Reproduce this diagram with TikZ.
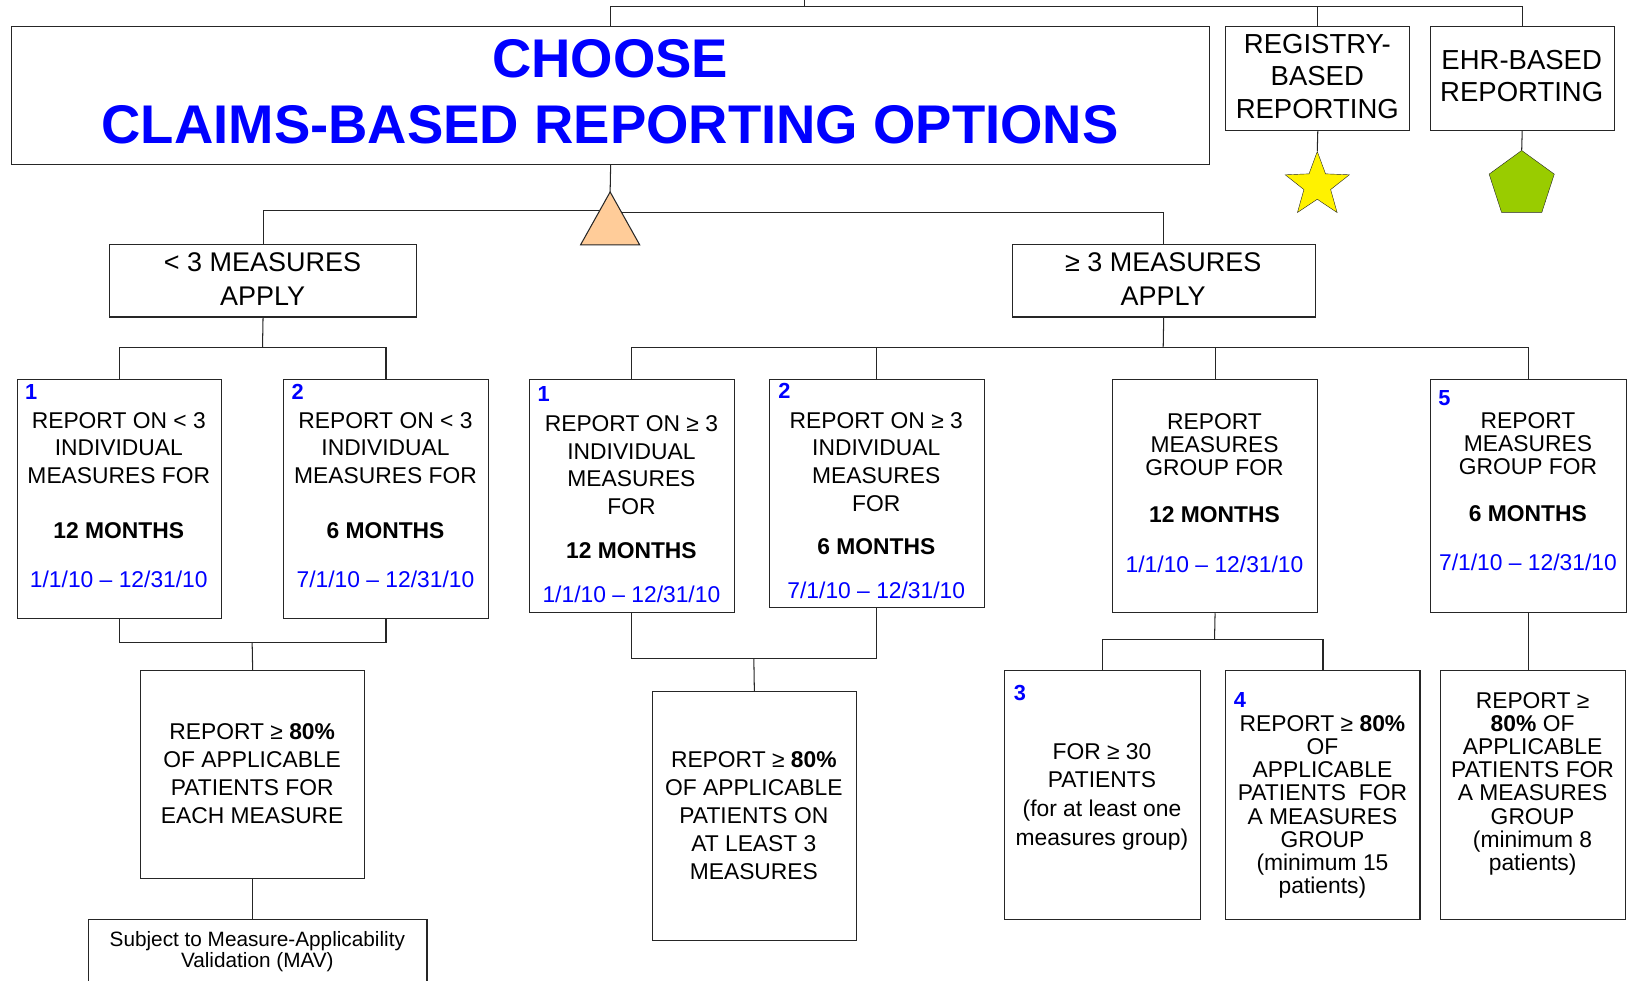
\documentclass[tikz,border=0pt]{standalone}
\usepackage{fontspec}
\setmainfont{Liberation Sans}
\usetikzlibrary{positioning,shapes.geometric}

\definecolor{optblue}{RGB}{0,0,255}
\definecolor{peach}{RGB}{255,204,153}
\definecolor{ehrgreen}{RGB}{153,204,0}

\begin{document}
\begin{tikzpicture}
    [x=1pt,y=-1pt,
    box/.style={draw=black!85,line width=1pt,inner sep=0pt,anchor=north west},
    txt/.style={align=center,inner sep=0pt,anchor=north,font=\fontsize{22}{#1}\selectfont},
    txt/.default=26.5,
    head/.style={align=center,inner sep=0pt,anchor=north,font=\fontsize{26.5}{31.5}\selectfont},
    num/.style={inner sep=0pt,text=optblue,font=\fontsize{21}{21}\selectfont\bfseries},
    link/.style={draw=black!85,line width=1pt}]
    \useasboundingbox (0,0) rectangle (1568,945);
    % top row
    \node[box,minimum width=1154,minimum height=133] (claims) at (11,25) {};
    \node[head,text=optblue,font=\fontsize{52.5}{63.5}\selectfont\bfseries] (claimst) at (588,37.7)
      {CHOOSE\\CLAIMS-BASED REPORTING OPTIONS};
    \node[box,minimum width=177,minimum height=100] (registry) at (1181,25) {};
    \node[head] (registryt) at (1269.5,32.5) {REGISTRY-\\BASED\\REPORTING};
    \node[box,minimum width=177,minimum height=100] (ehr) at (1378,25) {};
    \node[head] (ehrt) at (1466.5,48) {EHR-BASED\\REPORTING};
    \node[star,star points=5,star point ratio=2.4,minimum size=65,inner sep=0pt,
      draw=black!85,fill=yellow] (regstar) at (1269.5,178.5) {};
    \node[regular polygon,regular polygon sides=5,minimum size=66,inner sep=0pt,
      draw=black!85,fill=ehrgreen] (ehrpent) at (1466.5,178) {};
    \coordinate (topin) at (775,0);
    \coordinate (topbar) at (775,6);
    \draw[link] (topin) -- (topbar);
    \draw[link] (claims.north) |- (topbar) -| (ehr.north);
    \draw[link] (registry.north) -- (registry.north |- topbar);
    \draw[link] (registry.south) -- (regstar.north);
    \draw[link] (ehr.south) -- (ehrpent.north);
    % measures count
    \node[box,minimum width=296,minimum height=70] (lt) at (105,235) {};
    \node[head,font=\fontsize{26}{32}\selectfont] (ltt) at (253,243.7) {< 3 MEASURES\\APPLY};
    \node[box,minimum width=292,minimum height=70] (gt) at (975,235) {};
    \node[head,font=\fontsize{26}{32}\selectfont] (gtt) at (1121,243.7) {≥ 3 MEASURES\\APPLY};
    \coordinate (apex) at (588,185);
    \coordinate (splitl) at (588,203);
    \coordinate (splitr) at (588,205);
    \draw[link] (claims.south) -- (apex);
    \draw[link] (lt.north) |- (splitl);
    \draw[link] (splitr) -| (gt.north);
    \draw[link,fill=peach] (apex) -- ++(28.5,51) -- ++(-57,0) -- cycle;
    % fewer than 3 measures
    \node[box,minimum width=197,minimum height=231] (lt12) at (16,365) {};
    \node[txt] (lt12t) at (114.5,397.1) {REPORT ON < 3\\INDIVIDUAL\\MEASURES FOR\\[26.5pt]
      \textbf{12 MONTHS}\\[21.5pt]\textcolor{optblue}{1/1/10 – 12/31/10}};
    \node[num] (lt12n) at (30,378) {1};
    \node[box,minimum width=197,minimum height=231] (lt6) at (273,365) {};
    \node[txt] (lt6t) at (371.5,397.1) {REPORT ON < 3\\INDIVIDUAL\\MEASURES FOR\\[26.5pt]
      \textbf{6 MONTHS}\\[21.5pt]\textcolor{optblue}{7/1/10 – 12/31/10}};
    \node[num] (lt6n) at (287,378) {2};
    \node[box,minimum width=216,minimum height=200] (lt80) at (135,646) {};
    \node[txt=27] (lt80t) at (243,697.1)
      {REPORT ≥ \textbf{80\%}\\OF APPLICABLE\\PATIENTS FOR\\EACH MEASURE};
    \node[box,minimum width=326,minimum height=80] (mav) at (85,886) {};
    \node[txt,font=\fontsize{20}{20.4}\selectfont] (mavt) at (248,897.3)
      {Subject to Measure-Applicability\\Validation (MAV)};
    \coordinate (ltbar) at (253,335);
    \coordinate (ltjoin) at (243,619);
    \draw[link] (lt.south) -- (ltbar);
    \draw[link] (lt12.north) |- (ltbar) -| (lt6.north);
    \draw[link] (lt12.south) |- (ltjoin) -| (lt6.south);
    \draw[link] (ltjoin) -- (lt80.north);
    \draw[link] (lt80.south) -- (lt80.south |- mav.north);
    % 3 or more measures
    \node[box,minimum width=197,minimum height=225] (ge12) at (510,365) {};
    \node[txt=26.7] (ge12t) at (608.5,400.1) {REPORT ON ≥ 3\\INDIVIDUAL\\MEASURES\\FOR\\[16pt]
      \textbf{12 MONTHS}\\[15pt]\textcolor{optblue}{1/1/10 – 12/31/10}};
    \node[num] (ge12n) at (524,380) {1};
    \node[box,minimum width=207,minimum height=220] (ge6) at (741,365) {};
    \node[txt=26.7] (ge6t) at (844.5,397.1) {REPORT ON ≥ 3\\INDIVIDUAL\\MEASURES\\FOR\\[15pt]
      \textbf{6 MONTHS}\\[16pt]\textcolor{optblue}{7/1/10 – 12/31/10}};
    \node[num] (ge6n) at (756,377) {2};
    \node[box,minimum width=197,minimum height=240] (ge80) at (628,666) {};
    \node[txt=27] (ge80t) at (726.5,724.1)
      {REPORT ≥ \textbf{80\%}\\OF APPLICABLE\\PATIENTS ON\\AT LEAST 3\\MEASURES};
    % measures groups
    \node[box,minimum width=197,minimum height=225] (grp12) at (1072,365) {};
    \node[txt=22.5] (grp12t) at (1170.5,398.1) {REPORT\\MEASURES\\GROUP FOR\\[22.5pt]
      \textbf{12 MONTHS}\\[25.5pt]\textcolor{optblue}{1/1/10 – 12/31/10}};
    \node[box,minimum width=189,minimum height=225] (grp6) at (1378,365) {};
    \node[txt=22.5] (grp6t) at (1472.5,397.1) {REPORT\\MEASURES\\GROUP FOR\\[22pt]
      \textbf{6 MONTHS}\\[25.5pt]\textcolor{optblue}{7/1/10 – 12/31/10}};
    \node[num] (grp6n) at (1392,384) {5};
    \node[box,minimum width=188,minimum height=240] (grp30) at (968,646) {};
    \node[txt=27.7] (grp30t) at (1062,716.1)
      {FOR ≥ 30\\PATIENTS\\(for at least one\\measures group)};
    \node[num] (grp30n) at (983,668) {3};
    \node[box,minimum width=187,minimum height=240] (grp15) at (1181,646) {};
    \node[txt=22.4] (grp15t) at (1274.5,689.1)
      {REPORT ≥ \textbf{80\%}\\OF\\APPLICABLE\\PATIENTS\ \ FOR\\A MEASURES\\GROUP\\(minimum 15\\patients)};
    \node[num] (grp15n) at (1195,675) {4};
    \node[box,minimum width=178,minimum height=240] (grp8) at (1388,646) {};
    \node[txt=22.3] (grp8t) at (1477,667.1)
      {REPORT ≥\\\textbf{80\%} OF\\APPLICABLE\\PATIENTS FOR\\A MEASURES\\GROUP\\(minimum 8\\patients)};
    % connectors right side
    \coordinate (gebar) at (1121,335);
    \coordinate (gejoin) at (726.5,635);
    \coordinate (grpjoin) at (1170.5,616);
    \draw[link] (gt.south) -- (gebar);
    \draw[link] (ge12.north) |- (gebar) -| (grp6.north);
    \draw[link] (ge6.north) -- (ge6.north |- gebar);
    \draw[link] (grp12.north) -- (grp12.north |- gebar);
    \draw[link] (ge12.south) |- (gejoin) -| (ge6.south);
    \draw[link] (gejoin) -- (ge80.north);
    \draw[link] (grp12.south) -- (grpjoin);
    \draw[link] (grp30.north) |- (grpjoin) -| (grp15.north);
    \draw[link] (grp6.south) -- (grp6.south |- grp8.north);
\end{tikzpicture}
\end{document}
